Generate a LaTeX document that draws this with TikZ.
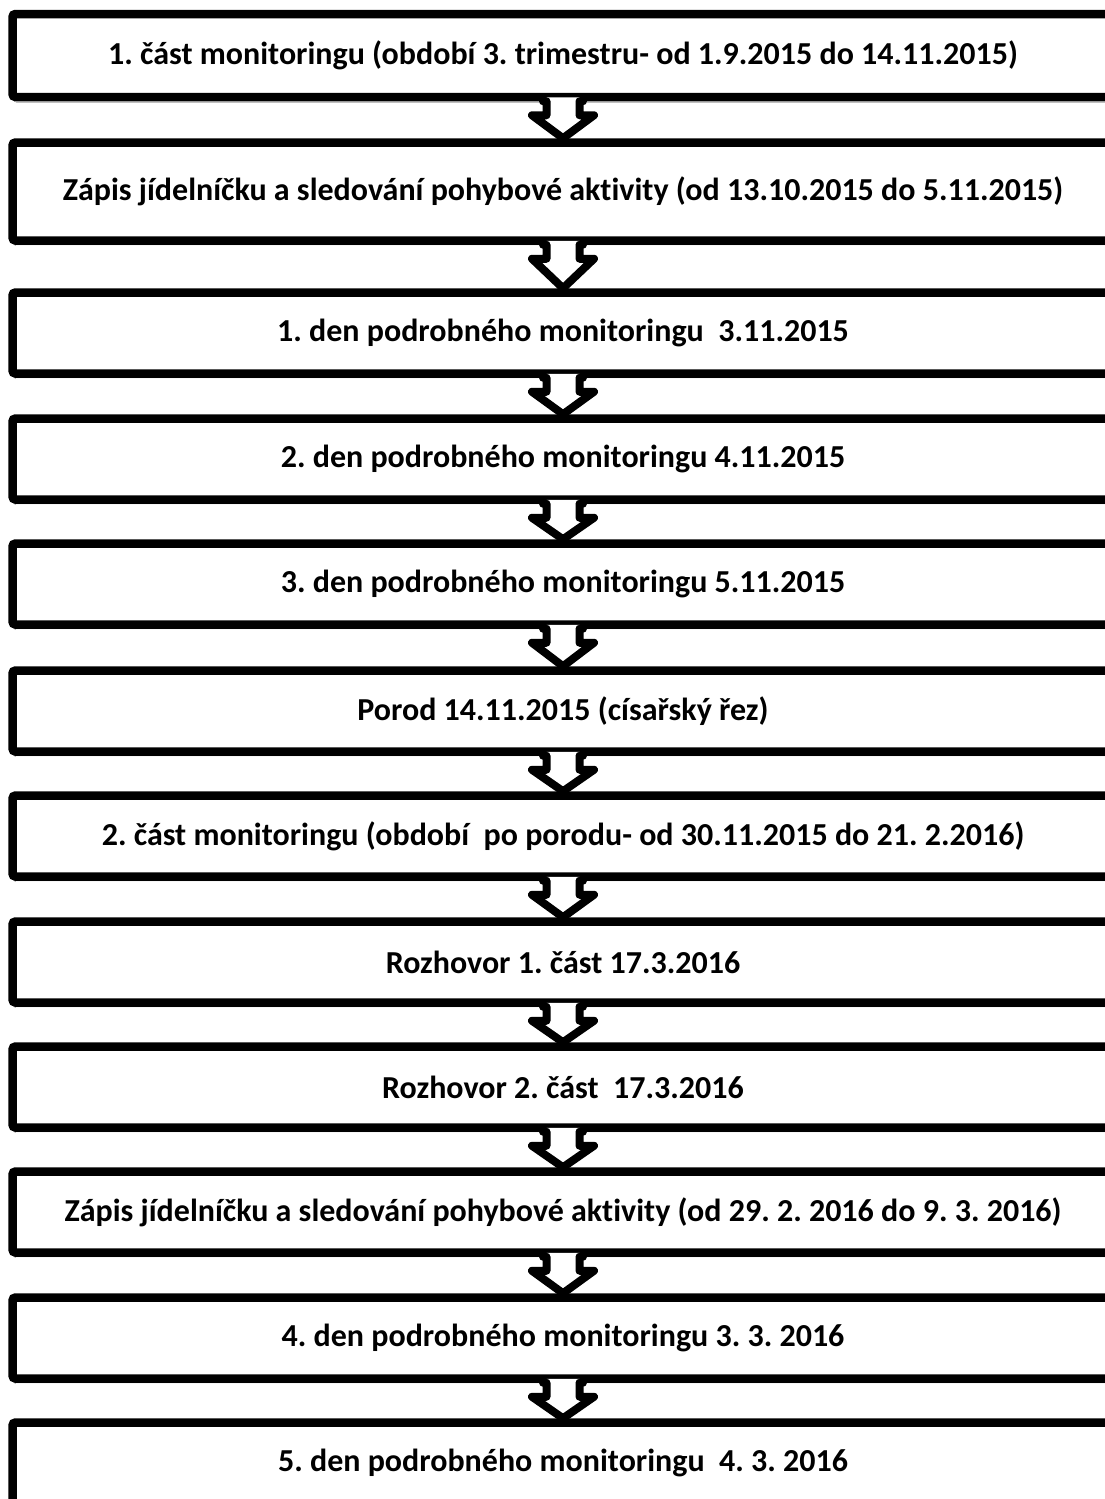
\documentclass[tikz,border=0pt]{standalone}
\usepackage{fontspec}
\setmainfont{Carlito}[Ligatures=NoCommon]
\usetikzlibrary{calc,shadows.blur}
\tikzset{
  stagebox/.style={draw=black, line width=8.5pt, fill=white, rounded corners=3pt,
    minimum width=1101pt, inner sep=0pt, font=\fontsize{32}{36}\selectfont\bfseries,
    blur shadow={shadow xshift=1.5pt, shadow yshift=-3.5pt, shadow blur steps=6, shadow opacity=35}},
  arrowline/.style={draw=black, line width=8pt, line join=round, line cap=round},
}
\newcommand\blockarrow[2]{%
  \fill[white] let \p1=(#1.south), \p2=(#2.north) in
    (\x1-16.5pt,\y1+4pt) -- (\x1-16.5pt,\y1-14pt) -- (\x1-31pt,\y1-14pt) -- (\x2,\y2)
    -- (\x1+31pt,\y1-14pt) -- (\x1+16.5pt,\y1-14pt) -- (\x1+16.5pt,\y1+4pt) -- cycle;
  \draw[arrowline] let \p1=(#1.south), \p2=(#2.north) in
    (\x1-20pt,\y1) -- (\x1-16.5pt,\y1) -- (\x1-16.5pt,\y1-14pt) -- (\x1-31pt,\y1-14pt) -- (\x2,\y2)
    -- (\x1+31pt,\y1-14pt) -- (\x1+16.5pt,\y1-14pt) -- (\x1+16.5pt,\y1) -- (\x1+20pt,\y1);
}
\begin{document}
\frenchspacing
\begin{tikzpicture}[x=1pt,y=-1pt]
\path[use as bounding box] (0,0) rectangle (1105,1499);
\clip (0,0) rectangle (1105,1499);
\fill[white] (0,0) rectangle (1105,1499);
\node[stagebox, minimum height=83pt] (b1) at (563,55.5) {1. část monitoringu (období 3. trimestru- od 1.9.2015 do 14.11.2015)};
\node[stagebox, minimum height=98pt] (b2) at (563,191.5) {Zápis jídelníčku a sledování pohybové aktivity (od 13.10.2015 do 5.11.2015)};
\node[stagebox, minimum height=81pt] (b3) at (563,333) {1. den podrobného monitoringu~ 3.11.2015};
\node[stagebox, minimum height=81pt] (b4) at (563,459) {2. den podrobného monitoringu 4.11.2015};
\node[stagebox, minimum height=81pt] (b5) at (563,584) {3. den podrobného monitoringu 5.11.2015};
\node[stagebox, minimum height=81pt] (b6) at (563,711) {Porod 14.11.2015 (císařský řez)};
\node[stagebox, minimum height=81pt] (b7) at (563,836) {2. část monitoringu (období~ po porodu- od 30.11.2015 do 21. 2.2016)};
\node[stagebox, minimum height=81pt] (b8) at (563,962) {Rozhovor 1. část 17.3.2016};
\node[stagebox, minimum height=81pt] (b9) at (563,1087) {Rozhovor 2. část~ 17.3.2016};
\node[stagebox, minimum height=81pt] (b10) at (563,1212) {Zápis jídelníčku a sledování pohybové aktivity (od 29. 2. 2016 do 9. 3. 2016)};
\node[stagebox, minimum height=81pt] (b11) at (563,1338) {4. den podrobného monitoringu 3. 3. 2016};
\node[stagebox, minimum height=81pt] (b12) at (563,1463) {5. den podrobného monitoringu~ 4. 3. 2016};
\blockarrow{b1}{b2}
\blockarrow{b2}{b3}
\blockarrow{b3}{b4}
\blockarrow{b4}{b5}
\blockarrow{b5}{b6}
\blockarrow{b6}{b7}
\blockarrow{b7}{b8}
\blockarrow{b8}{b9}
\blockarrow{b9}{b10}
\blockarrow{b10}{b11}
\blockarrow{b11}{b12}
\end{tikzpicture}
\end{document}
